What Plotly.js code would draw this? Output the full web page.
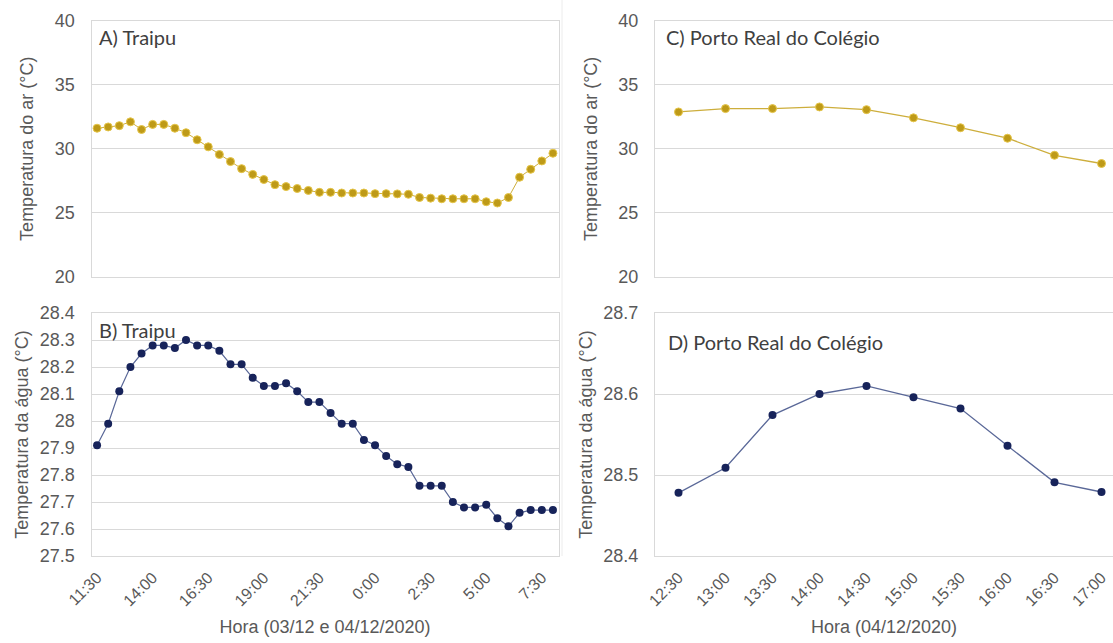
<!DOCTYPE html>
<html><head><meta charset="utf-8">
<script src="https://cdn.plot.ly/plotly-3.0.1.min.js"></script>
<style>html,body{margin:0;padding:0;background:#fff}#chart{width:1113px;height:643px}</style>
</head><body><div id="chart"></div>
<script>
// ---- data ----
const traipuHours = ["11:30","12:00","12:30","13:00","13:30","14:00","14:30","15:00","15:30","16:00",
  "16:30","17:00","17:30","18:00","18:30","19:00","19:30","20:00","20:30","21:00",
  "21:30","22:00","22:30","23:00","23:30","0:00","0:30","1:00","1:30","2:00",
  "2:30","3:00","3:30","4:00","4:30","5:00","5:30","6:00","6:30","7:00","7:30","8:00"];
const traipuAir = [31.6,31.7,31.8,32.1,31.5,31.9,31.9,31.6,31.25,30.7,
  30.15,29.55,29.0,28.45,28.0,27.6,27.2,27.05,26.9,26.75,
  26.6,26.6,26.55,26.55,26.55,26.5,26.5,26.48,26.45,26.2,
  26.15,26.1,26.1,26.1,26.1,25.87,25.77,26.2,27.78,28.4,29.05,29.65];
const traipuWater = [27.91,27.99,28.11,28.2,28.25,28.28,28.28,28.27,28.3,28.28,
  28.28,28.26,28.21,28.21,28.16,28.13,28.13,28.14,28.11,28.07,
  28.07,28.03,27.99,27.99,27.93,27.91,27.87,27.84,27.83,27.76,
  27.76,27.76,27.7,27.68,27.68,27.69,27.64,27.61,27.66,27.67,27.67,27.67];
const portoHours = ["12:30","13:00","13:30","14:00","14:30","15:00","15:30","16:00","16:30","17:00"];
const portoAir = [32.87,33.13,33.13,33.26,33.05,32.41,31.64,30.82,29.49,28.85];
const portoWater = [28.478,28.509,28.574,28.600,28.610,28.596,28.582,28.536,28.491,28.479];
const panelLabels = ["A) Traipu","B) Traipu","C) Porto Real do Colégio","D) Porto Real do Colégio"];
const yTitleAir = "Temperatura do ar (°C)";
const yTitleWater = "Temperatura da água (°C)";
const xTitleTraipu = "Hora (03/12 e 04/12/2020)";
const xTitlePorto = "Hora (04/12/2020)";

// ---- layout helpers ----
const W = 1113, H = 643;
const fx = v => v / W;
const fy = v => 1 - v / H;
const GOLD = '#BE9A18', GOLD_LINE = '#CDAE3C', NAVY = '#17235A', NAVY_LINE = '#5A6898';
const GRID = '#d9d9d9', TXT = '#595959';
const FAM = "'Liberation Sans', Arial, sans-serif";
const tickFont = {family: FAM, size: 18, color: TXT};
const xTickFont = {family: FAM, size: 16, color: TXT};
const titleFont = {family: FAM, size: 18, color: TXT};
const labelFont = {family: "Lato, 'Open Sans', sans-serif", size: 20, color: '#404040'};

const traces = [
  {x: traipuHours, y: traipuAir, xaxis: 'x', yaxis: 'y', type: 'scatter', mode: 'lines+markers',
   line: {color: GOLD_LINE, width: 1}, marker: {color: GOLD, size: 8, line: {color: '#E6C64A', width: 1}}},
  {x: traipuHours, y: traipuWater, xaxis: 'x2', yaxis: 'y2', type: 'scatter', mode: 'lines+markers',
   line: {color: NAVY_LINE, width: 1.2}, marker: {color: NAVY, size: 8}},
  {x: portoHours, y: portoAir, xaxis: 'x3', yaxis: 'y3', type: 'scatter', mode: 'lines+markers',
   line: {color: GOLD_LINE, width: 1.3}, marker: {color: GOLD, size: 8, line: {color: '#E6C64A', width: 1}}},
  {x: portoHours, y: portoWater, xaxis: 'x4', yaxis: 'y4', type: 'scatter', mode: 'lines+markers',
   line: {color: NAVY_LINE, width: 1.3}, marker: {color: NAVY, size: 8}}
];

const leftX = [fx(91.5), fx(558.5)];
const rightX = [fx(655), 1];
const topY = [fy(277), fy(20.5)];
const botY = [fy(556), fy(313)];

function xax(domain, anchor, n, showLabels, title, visRange, mirror) {
  const a = {domain: domain, anchor: anchor, type: 'category', range: visRange,
    showgrid: false, zeroline: false, showline: true, linecolor: GRID, linewidth: 1, mirror: mirror,
    ticks: '', showticklabels: showLabels, tickangle: -45, tickfont: xTickFont,
    tickmode: 'linear', tick0: 0, dtick: n, ticklabelstandoff: 5, fixedrange: true};
  if (title) a.title = {text: title, font: titleFont, standoff: 12};
  return a;
}
function yax(domain, anchor, range, dtick, title, standoff, mirror) {
  return {domain: domain, anchor: anchor, range: range, dtick: dtick, tick0: range[0],
    showgrid: true, gridcolor: GRID, gridwidth: 1, zeroline: false,
    showline: true, linecolor: GRID, linewidth: 1, mirror: mirror,
    ticks: '', tickfont: tickFont, ticklabelstandoff: 12,
    title: {text: title, font: titleFont, standoff: standoff}, fixedrange: true};
}

const layout = {
  width: W, height: H, margin: {l: 0, r: 0, t: 0, b: 0},
  paper_bgcolor: '#fff', plot_bgcolor: '#fff', showlegend: false,
  xaxis: xax(leftX, 'y', 5, false, null, [-0.5, 41.5], true),
  xaxis2: xax(leftX, 'y2', 5, true, xTitleTraipu, [-0.5, 41.5], true),
  xaxis3: xax(rightX, 'y3', 1, false, null, [-0.5, 9.245], true),
  xaxis4: xax(rightX, 'y4', 1, true, xTitlePorto, [-0.5, 9.245], true),
  yaxis: yax(topY, 'x', [20, 40], 5, yTitleAir, 16, true),
  yaxis2: yax(botY, 'x2', [27.5, 28.4], 0.1, yTitleWater, 6, true),
  yaxis3: yax(topY, 'x3', [20, 40], 5, yTitleAir, 16, false),
  yaxis4: yax(botY, 'x4', [28.4, 28.7], 0.1, yTitleWater, 6, false),
  annotations: [
    {text: panelLabels[0], xref: 'paper', yref: 'paper', x: fx(97), y: fy(37), xanchor: 'left', yanchor: 'middle', showarrow: false, font: labelFont},
    {text: panelLabels[1], xref: 'paper', yref: 'paper', x: fx(97), y: fy(330), xanchor: 'left', yanchor: 'middle', showarrow: false, font: labelFont},
    {text: panelLabels[2], xref: 'paper', yref: 'paper', x: fx(664), y: fy(37), xanchor: 'left', yanchor: 'middle', showarrow: false, font: labelFont},
    {text: panelLabels[3], xref: 'paper', yref: 'paper', x: fx(666), y: fy(342), xanchor: 'left', yanchor: 'middle', showarrow: false, font: labelFont}
  ],
  shapes: [
    {type: 'line', xref: 'paper', yref: 'paper', x0: fx(562), x1: fx(562), y0: fy(0), y1: fy(556),
     line: {color: '#ececec', width: 1}}
  ]
};

Plotly.newPlot('chart', traces, layout, {displayModeBar: false, staticPlot: true});
</script>
</body></html>
